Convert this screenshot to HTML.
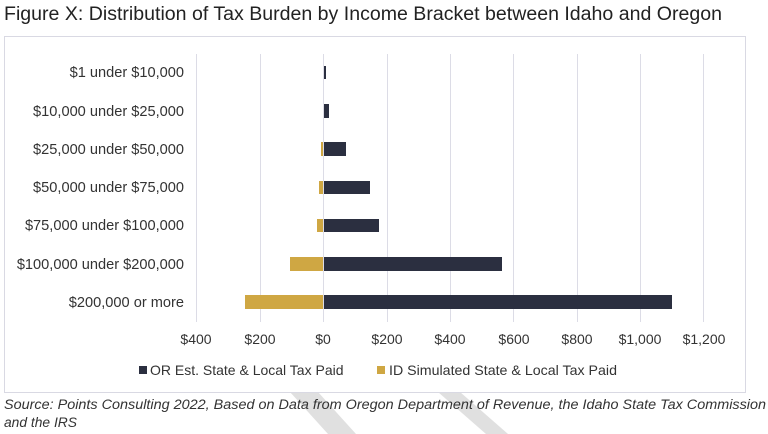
<!DOCTYPE html><html><head><style>
body{margin:0;width:768px;height:434px;background:#fff;overflow:hidden;font-family:"Liberation Sans",sans-serif;}
</style></head><body>
<svg width="768" height="434" xmlns="http://www.w3.org/2000/svg" style="position:absolute;left:0;top:0">
<polygon points="290,392 318,392 356,434 328,434" fill="#e0e0e0"/>
<polygon points="438,392 460,392 508,434 486,434" fill="#e0e0e0"/>
<text x="4" y="20" font-size="19" fill="#222" textLength="718" lengthAdjust="spacingAndGlyphs">Figure X: Distribution of Tax Burden by Income Bracket between Idaho and Oregon</text>
<rect x="4.5" y="36.5" width="741" height="356" fill="none" stroke="#d9d9e3"/>
<g stroke="#dcdce6" stroke-width="1">
<line x1="196.5" y1="54" x2="196.5" y2="322"/><line x1="260.5" y1="54" x2="260.5" y2="322"/><line x1="323.5" y1="54" x2="323.5" y2="322"/><line x1="387.5" y1="54" x2="387.5" y2="322"/><line x1="450.5" y1="54" x2="450.5" y2="322"/><line x1="513.5" y1="54" x2="513.5" y2="322"/><line x1="577.5" y1="54" x2="577.5" y2="322"/><line x1="640.5" y1="54" x2="640.5" y2="322"/><line x1="703.5" y1="54" x2="703.5" y2="322"/>
</g>
<g fill="#2b2f40">
<rect x="324" y="66" width="2" height="13"/>
<rect x="324" y="104" width="5" height="14"/>
<rect x="324" y="142" width="22" height="14"/>
<rect x="324" y="181" width="46" height="13"/>
<rect x="324" y="219" width="55" height="13"/>
<rect x="324" y="257" width="178" height="14"/>
<rect x="324" y="295" width="348" height="14"/>
</g>
<g fill="#cfa743">
<rect x="321" y="142" width="2" height="14"/>
<rect x="319" y="181" width="4" height="13"/>
<rect x="317" y="219" width="6" height="13"/>
<rect x="290" y="257" width="33" height="14"/>
<rect x="245" y="295" width="78" height="14"/>
</g>
<g font-size="14.6" fill="#333" text-anchor="end">
<text x="184" y="77">$1 under $10,000</text>
<text x="184" y="116">$10,000 under $25,000</text>
<text x="184" y="154">$25,000 under $50,000</text>
<text x="184" y="192">$50,000 under $75,000</text>
<text x="184" y="230">$75,000 under $100,000</text>
<text x="184" y="269">$100,000 under $200,000</text>
<text x="184" y="307">$200,000 or more</text>
</g>
<g font-size="14" fill="#333" text-anchor="middle">
<text x="196" y="344">$400</text><text x="260" y="344">$200</text><text x="323" y="344">$0</text><text x="387" y="344">$200</text><text x="450" y="344">$400</text><text x="514" y="344">$600</text><text x="577" y="344">$800</text><text x="640" y="344">$1,000</text><text x="704" y="344">$1,200</text>
</g>
<rect x="139" y="366" width="8" height="8" fill="#2b2f40"/>
<text x="150" y="375" font-size="14" fill="#333">OR Est. State &amp; Local Tax Paid</text>
<rect x="377" y="366" width="8" height="8" fill="#cfa743"/>
<text x="389" y="375" font-size="14" fill="#333" textLength="228" lengthAdjust="spacingAndGlyphs">ID Simulated State &amp; Local Tax Paid</text>
<g font-size="13.5" font-style="italic" fill="#333">
<text x="4" y="409" textLength="762" lengthAdjust="spacingAndGlyphs">Source: Points Consulting 2022, Based on Data from Oregon Department of Revenue, the Idaho State Tax Commission</text>
<text x="4" y="427" textLength="73" lengthAdjust="spacingAndGlyphs">and the IRS</text>
</g>
</svg>
</body></html>
